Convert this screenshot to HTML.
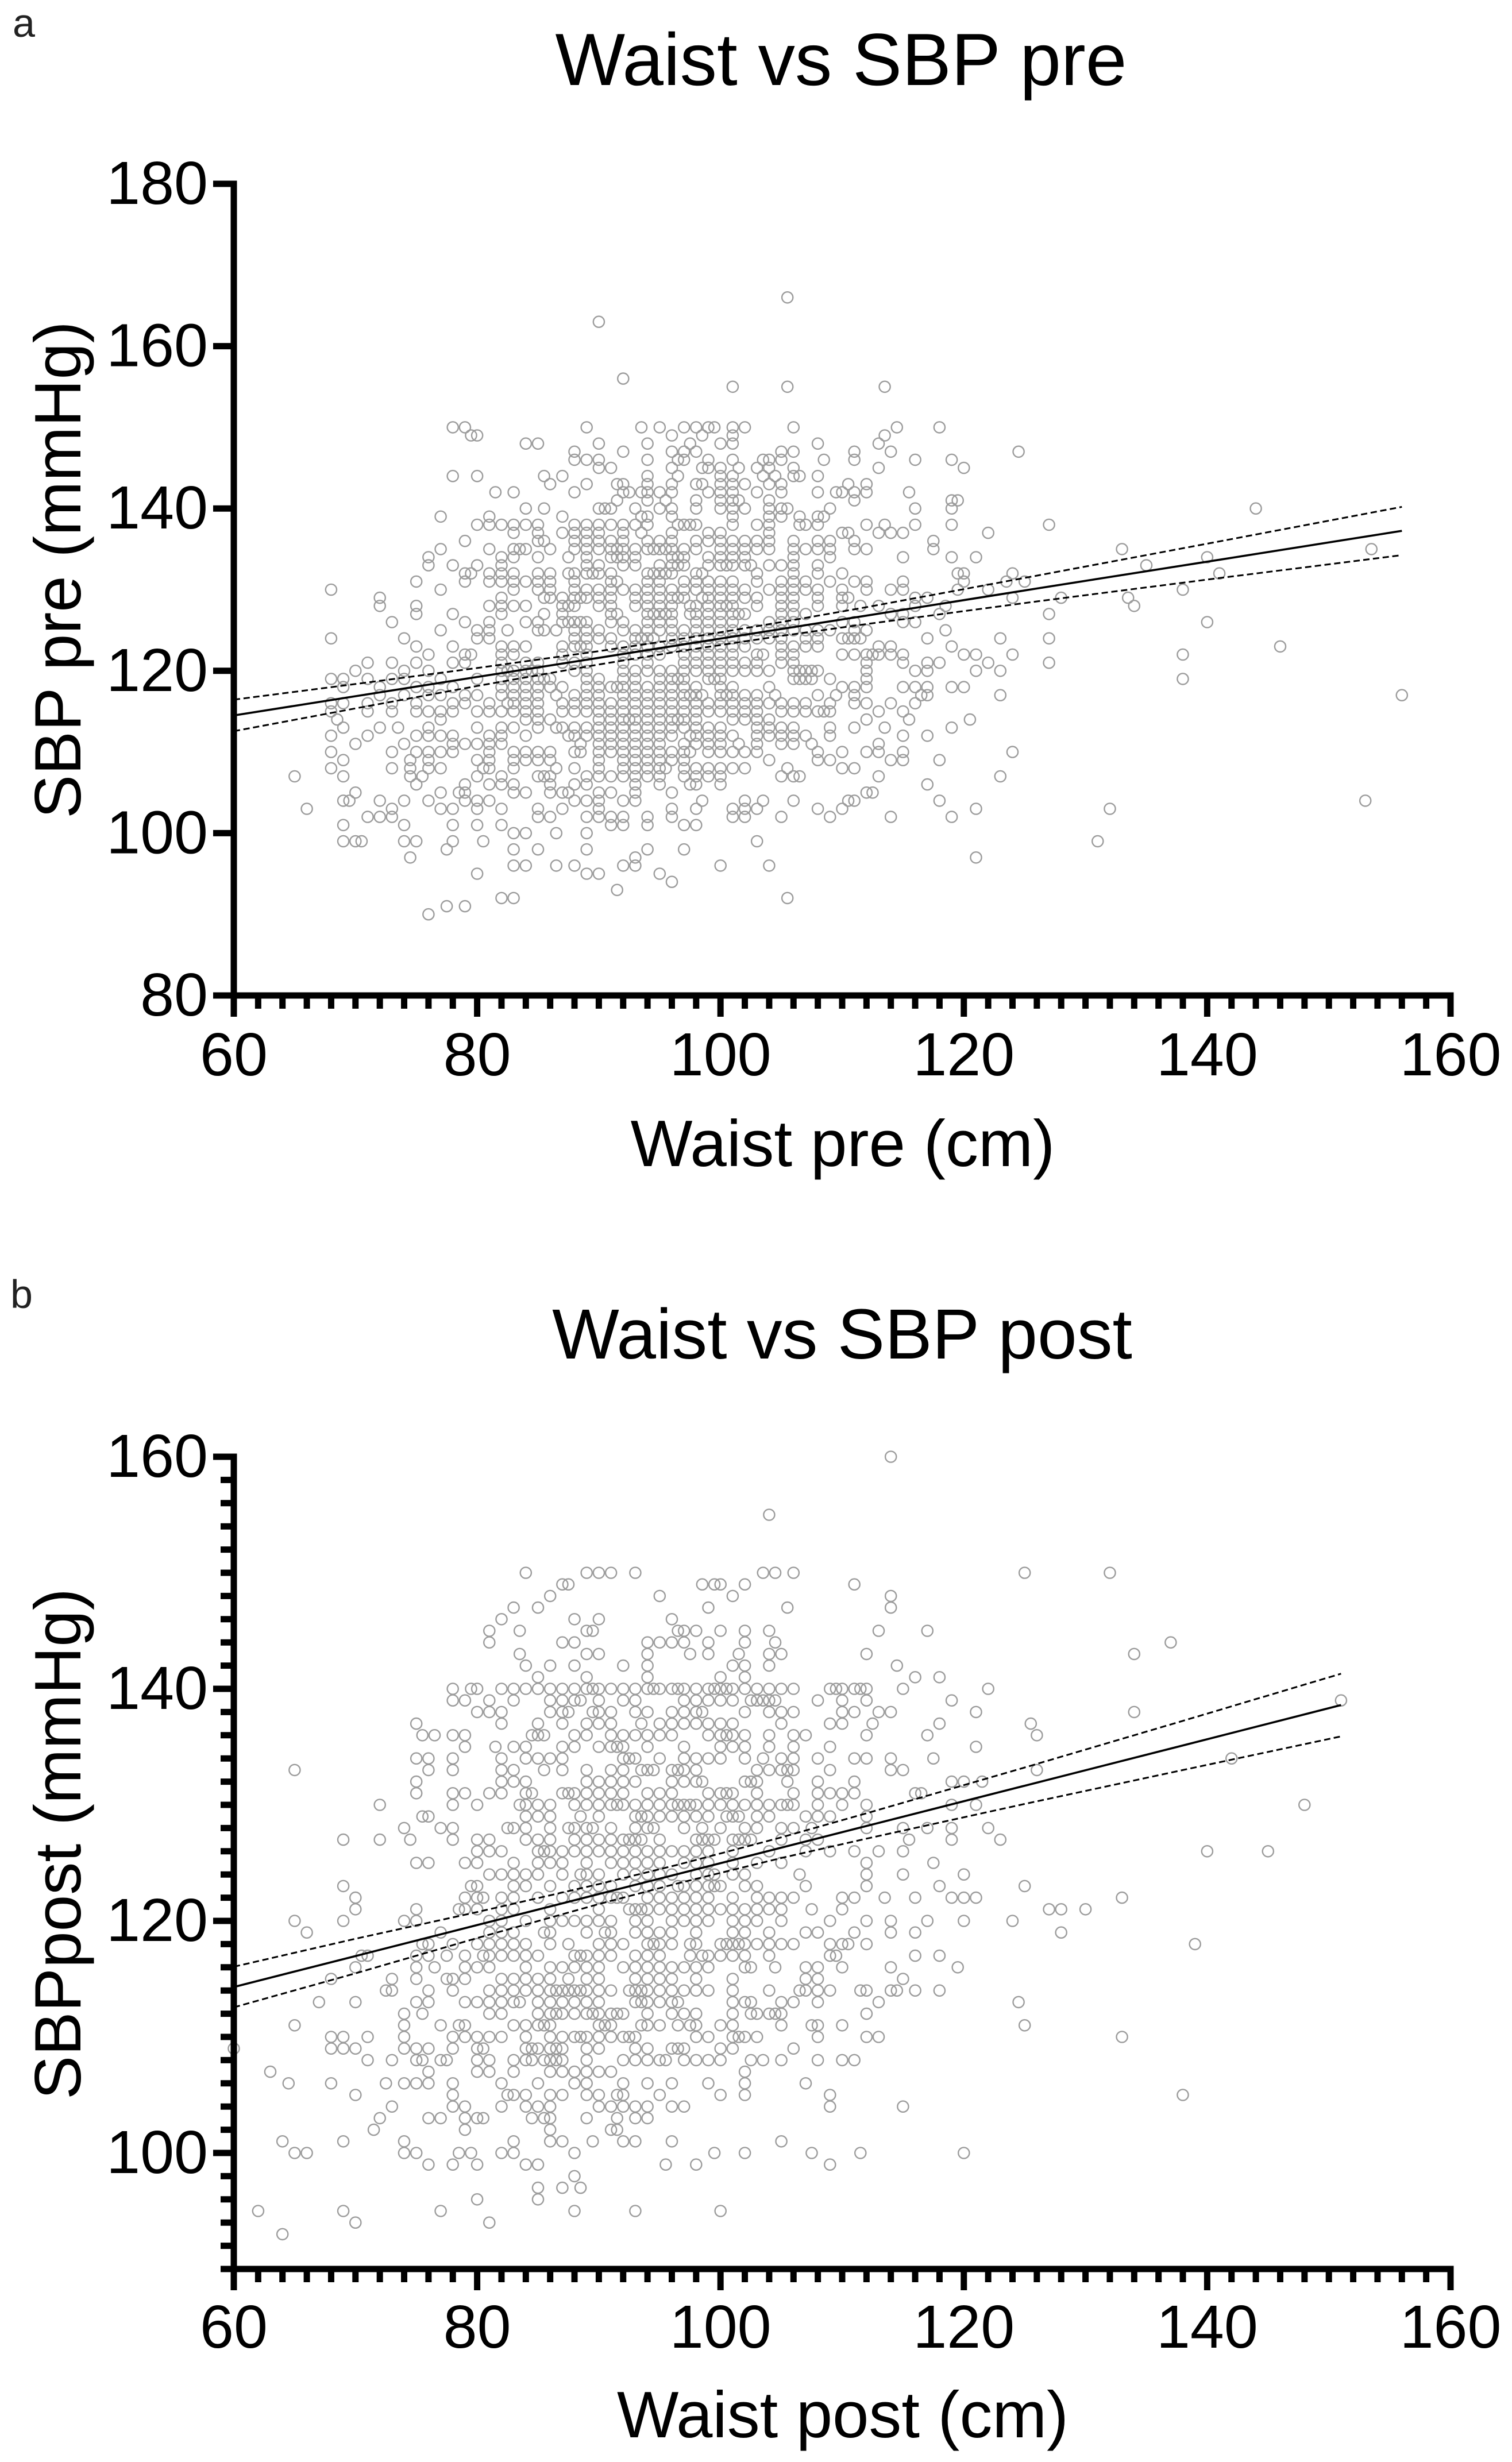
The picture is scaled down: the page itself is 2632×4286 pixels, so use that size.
<!DOCTYPE html>
<html lang="en">
<head>
<meta charset="utf-8">
<title>Waist vs SBP scatter plots</title>
<style>
html,body{margin:0;padding:0;background:#fff;}
svg{display:block;}
text{font-family:"Liberation Sans",Arial,sans-serif;fill:#000;}
</style>
</head>
<body>
<svg id="figure" xmlns="http://www.w3.org/2000/svg" width="2632" height="4286" viewBox="0 0 2632 4286">
  <rect x="0" y="0" width="2632" height="4286" fill="#fff"/>
  <text x="22" y="64" font-size="70" style="fill:#222">a</text>
  <text x="1464" y="148" font-size="128.8" text-anchor="middle">Waist vs SBP pre</text>
  <text x="1467" y="2030" font-size="114.3" text-anchor="middle">Waist pre (cm)</text>
  <text x="140" y="992" font-size="114" text-anchor="middle" transform="rotate(-90 140 992)">SBP pre (mmHg)</text>
  <text x="18" y="2277" font-size="70" style="fill:#222">b</text>
  <text x="1466" y="2365" font-size="123.6" text-anchor="middle">Waist vs SBP post</text>
  <text x="1467" y="4243" font-size="113.8" text-anchor="middle">Waist post (cm)</text>
  <text x="140" y="3210" font-size="114.4" text-anchor="middle" transform="rotate(-90 140 3210)">SBPpost (mmHg)</text>
  <g id="panel-a"></g>
  <g id="panel-b"></g>
</svg>
<script>
/* ---------- shared x axis values ---------- */
const waistTickLabels = [60,80,100,120,140,160];
const waistMinorTicks = [62,64,66,68,70,72,74,76,78,82,84,86,88,90,92,94,96,98,102,104,106,108,110,112,114,116,118,122,124,126,128,130,132,134,136,138,142,144,146,148,150,152,154,156,158];

/* ---------- panel a values ---------- */
const sbpPreTickLabels = [80,100,120,140,160,180];
const sbpPreMinorTicks = [];
const sbpPreLevels = [90,91,92,93,94,95,96,97,98,99,100,101,102,103,104,105,106,107,108,109,110,111,112,113,114,115,116,117,118,119,120,121,122,123,124,125,126,127,128,129,130,131,132,133,134,135,136,137,138,139,140,141,142,143,144,145,146,147,148,149,150,155,156,163,166];
const waistPreByLevel = [
[76],
[77.5,79],
[82,83,105.5],
[91.5],
[96],
[80,89,90,95],
[83,84,86.5,88,92,93,100,104],
[74.5,93,121],
[77.5,83,85,89,94,97],
[69,70,70.5,74,75,78,80.5,103,131],
[83,84,86.5,89],
[69,74,78,80,82,91,92,94,97,98],
[71,72,73,85,86,89,90,91,92,94,96,101,102,105,109,114,119],
[66,73,77,78,80,82,85,87,90,96,98,101,102,103,108,110,121,132],
[69,69.5,72,74,76,79,80,81,88,89,90,92,93,98.5,102,103.5,106,110.5,111,118,153],
[70,77,78.5,79,83,84,86,87,87.5,90,91,93,96,112,112.5],
[75,79,81,82,83,86,88,89,93,95,97.5,98,100,117],
[65,69,74.5,75.5,80,82,85,85.5,86,89,90,91,92,93,94,95,97,98,99,100,105,106,106.5,113,123],
[68,73,74.5,76,77,80.5,81,83,86.5,88,90,92,93,94,95,95.5,97,98,99,100,101,102,105.5,110,111],
[69,74.5,76,80,81,83,84,85,86,90,92,93,94,95,96,97,104,108,109,114,115,118],
[68,73,75,76,77,78,81,83,84,85,86,88,88.5,90,91,92,93,94,95,96,97,97.5,99,100,101,102,103,108,110,112,113,115,124],
[70,74,78,79,80,81,82,88.5,90,91,92,93,94,95,97,98,99,100,101.5,103,105,106,107.5,113],
[68,71,75,76,77,78,81,82,84,87.5,88,89,90,91,92,93,94,95,96,97.5,98,99,100,101,103,104,105,106,107,109,115,117],
[69,72,73.5,76,80,82,83,85,86.5,87,88,89,90,91,92,93,94,95,96,97,98,99,100,103,104,105,106,109,111,113.5,119],
[68.5,77,84,85,86,90,91,92,92.5,93,94,95,96,96.5,97,98,101,102,103,104,112,115.5,120.5],
[68,71,73,75,76,77,78,80,81,82,83,84,85,87,88,89,90,91,92,93,94,95,96,97,98,99,100,101,102,103,105,106,107,108,108.5,109,113,115],
[68,69,71,73,75,78,79,81,82.5,83,84,85,87,88,89,90,91,92,93,94,95,96,97,98,99,100,101,102,103,104,105,106,107,109,111,112,114,116],
[72,74,76,77,79,80,82,83,84,85,86.5,88,89,90,92,93,94,95,96,97,97.5,98,98.5,100,100.5,101,102,103,104.5,108,109.5,111,116.5,117,123,156],
[69,72,75,76,78,82,83,84,85,86,87,89,90,91,91.5,92,93,94,95,96,97,98,100,101,104,110,111,112,115,116,117,119,120],
[68,69,71,73,74,77,80,82,83,84,85,85.5,86,89,90,92,93,95,96,96.5,97,99,99.5,100,106,106.5,107,107.5,109,112,138],
[70,74,76,82,82.5,83,84,84.5,85,88,89,92,93,94,95,96,97,98,99,100,101,102,103,104,106,106.5,107,107.5,108,112,116,117,121,123],
[71,73,75,78,79,82,84,85,87,88,89,92,94,97,98,99,100,101,102,103,105,106,112,115,117,118,122,127],
[76,79,79.5,82,83,87,89,92,93,94,95,97,98,99,100,101,103,103.5,105,106,110,111,112,112.5,113,114,115,120,121,124,138],
[75,78,82,83,84,87,88,88.5,89,91,92,93,94,95,96,97,98,99,100,101,102,105,106,107,108,113,114,119,146],
[68,74,80,81,88,89,90,91,93,93.5,94,94.5,96,97,98,99,100,101,102,103,104,105,107,108,110,111,110.5,111.5,117,123,127],
[77,80,81,82.5,85,85.5,86.5,88,89,90,92,93,94,95,96,97,98,99,100,101,102,103,104,105,106,107,108,109,111,112,118.5],
[73,79,81,84,85,87,87.5,88,88.5,89,91,92,94,95,96,98,99,100,101,104,105,106,110,111,115,116,140],
[75,78,82,85.5,87,91,91.5,94,94.5,95,95.5,96,97.5,98,99,100,101,101.5,102,105,106,107,114,115,118,127],
[72,75,81,82,83,84,87,87.5,88,90,91,93,94,95,96,97.5,98,99,100,100.5,101,103,105,106,108,110,111.5,113,116,118.5,134],
[72,82,85.5,86,87,88,88.5,89,90,91,93,94,95,96,96.5,97,98.5,99,100,101,102,103,105,106,108,110,110.5,116,117,124,128,133.5],
[68,77,83,85,86,88,89,90,91,92,93,94,95,96,97,98,99,100,101,102,104,105,106,107,108,110,112,114,115,119.5,122,138],
[75,79,81,82,83,84,85,86,88,91,91.5,94,95,97,98,99,100,101,103,105,106,107,109,111,112,115,120,123.5,125],
[79,79.5,81,82,83,85,86,87.5,88,89,89.5,90,91,94,94.5,95,95.5,96,98,98.5,103,106,108,110,119.5,120,124,141],
[76,78,80,82,89,90,92,93,95,96,96.5,97,99,100,100.5,101,102,102.5,104,105,106,108,135],
[76,82,83,85,87.5,89,91,91.5,92,93,96,96.5,97,99,100,101,102,106,109,115,119,121,140],
[77,81,83,83.5,84,86,88,89,90,91,91.5,92,93,94,94.5,95,95.5,96,97,98,100,101,102,103,104,106,107,108,109,111,112,117.5,133,153.5],
[79,85,85.5,88,89,90,91,92,94,95,96,98,99,100,101,102,103,104,106,108,109,111,117.5],
[83,85,87,88,89,90,92,93.5,96,99,100,104,110,110.5,113,114,115,122],
[80,81,82,83,84,85,88,89,90,91,92,93,94,96.5,97,97.5,98,101,103,104,106.5,107,108,112,113.5,116,119,127],
[77,81,87,93.5,94,96,101,104,105,106.5,108,108.5],
[84,85.5,90,90.5,91,93,95,96,98,100,101,102,104,105,105.5,109,116,119,144],
[91.5,94,95.5,98,100,101,101.5,104,111,119,119.5],
[81.5,83,88,92,92.5,93.5,94,95,96,99,100,101,103,105,108,109.5,110,111,112,115.5],
[86,89,91.5,92,94,96,98,98.5,100,101,102,104,105,110.5,112],
[78,80,85.5,87,94,96.5,100,101,103.5,104.5,106,106.5,108],
[90,91,96,98.5,99,100,101.5,103,104,106,113,120],
[88,89,90,94,96.5,97,99,101,103.5,104,105,108.5,111,116,119],
[88,92,96,97,98,105,106,111,114,124.5],
[84,85,90,94,97.5,100,101,108,113],
[79.5,80,96,98.5,101,113.5],
[78,79,89,93.5,95,97,98,99,99.5,101,102,106,114.5,118],
[101,105.5,113.5],
[92],
[90],
[105.5]
];
const fitPreWaist = [60,70,80,90,97,105,112,126,140,156];
const fitPreSbp = [114.5,116.87,119.24,121.6,123.26,125.15,126.8,130.14,133.45,137.25];
const fitPreUpper = [116.45,118.37,120.35,122.42,124.0,126.0,127.84,131.73,135.66,140.2];
const fitPreLower = [112.56,115.37,118.13,120.78,122.5,124.3,125.76,128.55,131.24,134.25];

/* ---------- panel b values ---------- */
const sbpPostTickLabels = [100,120,140,160];
const sbpPostMinorTicks = [90,92,94,96,98,102,104,106,108,110,112,114,116,118,122,124,126,128,130,132,134,136,138,142,144,146,148,150,152,154,156,158];
const sbpPostLevels = [93,94,95,96,97,98,99,100,101,102,103,104,105,106,107,108,109,110,111,112,113,114,115,116,117,118,119,120,121,122,123,124,125,126,127,128,129,130,131,132,133,134,135,136,137,138,139,140,141,142,143,144,145,146,147,148,149,150,155,160];
const waistPostByLevel = [
[64],
[70,81],
[62,69,77,88,93,100],
[80,85],
[85,87,88.5],
[88],
[76,78,80,84,85,95.5,98,109],
[65,66,74,75,78.5,79.5,82,83,88,99.5,102,107.5,111.5,120],
[64,69,74,83,86,87,89.5,92,93,96,105],
[71.5,79,86,91,91.5],
[72,76,77,79,80,80.5,84.5,85.5,86,89,91.5,93,94],
[73,78,79,82,84,85,86,90,91,92,93,94,96,97,109,115],
[70,78,82.5,83,84,86,87,89,90,91.5,92,95,100,102,109,138],
[64.5,68,72.5,74,75,76,78,82,85,88,89,92,94,96,99,102,107],
[63,76,80,81,83,86,87,88,89,90,91,102],
[71,73,75,75.5,77,77.5,80,81,83,84,84.5,85.5,86,86.5,87,89,92,93,94,95,95.5,97,98,99,100,102.5,103.5,105,108,110,111],
[60,68,69,70,74,75,76,78,80,80.5,84,84.5,85,86,86.5,87,89,90,93,94,96,96.5,97,100,101,106],
[68,69,71,74,78,79,80,81,82,84,86,87,88,88.5,89,90,91,92,92.5,93,98,99,101,101.5,102,103,108,112,113,133],
[65,74,77,78.5,79,83,84,85,85.5,86,90,90.5,91,93.5,94,95,96.5,97.5,98,100,101,105,107.5,108,110,125],
[74,75.5,81,82,85,86,86.5,87,88,89,89.5,90,91,91.5,92,94,96,97,98,101,102.5,103,104,104.5,105,112],
[67,70,75,76,79,80,81,82,83,83.5,85,86,87,88,89,90,93,93.5,94,95,96,96.5,101,102,102.5,105,106,108,113,124.5],
[72.5,73,76,78,81,82,83,84,85,86,86.5,87,87.5,88,88.5,89,90,91,92.5,93,93.5,94,95,96,97,98,99,101,104,106.5,107,108,109,111.5,112,114,114.5,116,118],
[68,73,75,77.5,78,79,82,83,84,85,86,87.5,89,90,93,94,95,96,98,101,107,108,115],
[70,75,76.5,79,80,81,84,86,87,88,89,90,92,93,94,95,96,97,98,99,102,102.5,104.5,107,108,110,114,119.5],
[70.5,71,75,76,77.5,79,80.5,81,82,83,84,85,88,88.5,89,90,91,93,94,95,97.5,98.5,99,100,101,102,104,109,109.5,116,118],
[75.5,76,78,80,81,82,83,84,86,87.5,90,91,92,94,94.5,95,96,97.5,98,100,100.5,101,101.5,102,103,104,105,106,109,110,110.5,112,139],
[66,77,81,82,83,85.5,86,89,90.5,91,93,94,95,96,98,101,102,104,107,108,111,114,116,128],
[65,69,74,75,81,82,84,86,87,88,89,90,91,93,94,96,97,98,99,101,102,103,105,109,112,114,117,120,124],
[70,75,78.5,79,80,82,83,86,90,92.5,93,93.5,94,95,96,97,98,99,100,101,102,103,104,105,107.5,110,127,128,130],
[70,79,80,80.5,82,83,85,87,88,89,90,91,91.5,92,94,95,96,97,98,99,101,103,104,105,106,110,111,113.5,116,119,120,121,133],
[69,79.5,80,83,84,86,88,89,90,91,93,94,95,96.5,97,98,99,99.5,100,102,103,107,112,118,125],
[81,82,83,84,85,87,88.5,89,90,92,93,94,95,96,98,99,99.5,101,102,106.5,112,115,120],
[75,76,79,80,83,85,86,87,89,91,92,93,94,95,97,98,99,101,103,105,112,117.5],
[80,81,82,85,85.5,86,87,88,89,90,91,92,93,94,95,96,97,98,99,101,104,107,109,111,113,115,140,145],
[69,72,74.5,78,80,81,84,85,86,88,89,90,91,92,92.5,93,93.5,95,98,98.5,99,99.5,101,101.5,102,102.5,105,107,108,115.5,119,123],
[74,77,78,82.5,83,84,86,87.5,88,89,89.5,91,93,94,94.5,97,98.5,100,102,103,105,106,107.5,112,115,117,119,122],
[75.5,76,84,85,86,88.5,90,93,93.5,94,95,96,97,98,99,100.5,101,101.5,103,104,107,108,109,112],
[72,78,80,83.5,84,85,86,88,89,90,91,91.5,92,93,94,95,96,96.5,97,97.5,98,99,100,101,102,103,104,105,105.5,106,108,110,112,119,121,148],
[75,78,79,81,82,84,84.5,87,87.5,88,89,90,91,92,94,95,96,99,100,100.5,101,103,106,108,109,110,111,116,116.5],
[75,82,83,84,89,90,91,92,93,96,97,98,98.5,102,102.5,103,105.5,108,111,119,120,121.5],
[65,76,78,82,83,85.5,87,89,91,92,93.5,94,94.5,96,96.5,97,98,103,104,105,105.5,106,109,114,115,126],
[75,76,78,82,84,85,86,87,92,92.5,93,95,97,98,99,100,102,103.5,105,106,108,111,112,114,117.5,142],
[79,81.5,83,84,87,88,90,91,91.5,92,94,97,100,101,102,104,106,109,121],
[75.5,76.5,78,79,84.5,85,85.5,88,89,91,92,93,94,95,96,99,100,100.5,101,102,104,106,107,112,117,126],
[75,82,85,87,89,90,91,93.5,95,96,97,98,99,100,101,105,109,110,112.5,118,125.5],
[80,81,82,86,87,87.5,89.5,90,91,93,94,96,97,98,98.5,102,104,105,106,110,111,113,114,121,134],
[78,79,81,83,86,87,88,88.5,90,92,93,97,98,99,100,101,102.5,103,103.5,104,104.5,108,110,112,119,151],
[78,79.5,80,82,83,84,85,86,87,88,89,89.5,90,91,92,93,94,94.5,95,96,96.5,97,98,99,99.5,100,100.5,101,102,103,104,105,106,109,109.5,110,111,111.5,112,115,122],
[85,89,94,100,102,116,118],
[84,86,88,92,94,101,102,104,114.5],
[83.5,89,90,94,97.5,99,101.5,104,105,112,134],
[81,87,88,94,95,96,97,99,102,104.5,137],
[81,83.5,89,89.5,96.5,97,98,100,102,104,113,117],
[82,88,90,96],
[83,85,99,105.5,114],
[86,95,101,114],
[87,87.5,98.5,99.5,100,102,111],
[84,89,90,91,93,103.5,104.5,106,125,132],
[104],
[114]
];
const fitPostWaist = [60,70,80,90,96.5,105,112,125,138,151];
const fitPostSbp = [114.3,116.97,119.64,122.31,124.04,126.31,128.18,131.65,135.12,138.6];
const fitPostUpper = [116.05,118.46,120.76,123.17,124.84,127.2,129.27,133.22,137.24,141.3];
const fitPostLower = [112.55,115.48,118.52,121.45,123.24,125.42,127.09,130.08,133.0,135.9];

/* ---------- drawing ---------- */
const SVG_NS = 'http://www.w3.org/2000/svg';

function makeLinearScale(domainA, rangeA, domainB, rangeB) {
  return function (v) { return rangeA + (v - domainA) * (rangeB - rangeA) / (domainB - domainA); };
}

function addRule(parent, x1, y1, x2, y2, label) {
  const el = document.createElementNS(SVG_NS, 'line');
  
  
  el.setAttribute('x1', x1);
  el.setAttribute('y1', y1);
  el.setAttribute('x2', x2);
  el.setAttribute('y2', y2);
  el.setAttribute('stroke', '#000');
  el.setAttribute('stroke-width', 11);
  parent.appendChild(el);
}

function addTickText(parent, x, y, anchor, value, label) {
  const el = document.createElementNS(SVG_NS, 'text');
  
  
  el.setAttribute('x', x);
  el.setAttribute('y', y);
  el.setAttribute('text-anchor', anchor);
  el.setAttribute('font-size', 106);
  el.textContent = String(value);
  parent.appendChild(el);
}

function addFitLine(parent, xs, ys, sx, sy, dashed, label) {
  const el = document.createElementNS(SVG_NS, 'polyline');
  
  
  el.setAttribute('points', xs.map(function (x, i) { return sx(x).toFixed(1) + ',' + sy(ys[i]).toFixed(1); }).join(' '));
  el.setAttribute('fill', 'none');
  el.setAttribute('stroke', '#000');
  el.setAttribute('stroke-width', dashed ? 3 : 3.6);
  if (dashed) { el.setAttribute('stroke-dasharray', '11 6'); }
  parent.appendChild(el);
}

function drawPanel(cfg) {
  const root = document.getElementById(cfg.id);
  const sx = makeLinearScale(60, 407, 160, 2525);
  const sy = makeLinearScale(cfg.yDomainLow, cfg.yRangeLow, cfg.yDomainHigh, cfg.yRangeHigh);
  const baseY = cfg.yRangeLow;
  const topY = cfg.yRangeHigh;

  const points = document.createElementNS(SVG_NS, 'g');
  
  
  points.setAttribute('fill', 'none');
  points.setAttribute('stroke', '#9c9c9c');
  points.setAttribute('stroke-width', '2.4');
  root.appendChild(points);
  cfg.levels.forEach(function (level, r) {
    cfg.rows[r].forEach(function (waist) {
      const c = document.createElementNS(SVG_NS, 'circle');
      
      
      c.setAttribute('cx', sx(waist).toFixed(1));
      c.setAttribute('cy', sy(level).toFixed(1));
      c.setAttribute('r', '9.6');
      points.appendChild(c);
    });
  });

  addFitLine(root, cfg.fitX, cfg.fitY, sx, sy, false, 'regression-line');
  addFitLine(root, cfg.fitX, cfg.fitUpper, sx, sy, true, 'confidence-band-upper');
  addFitLine(root, cfg.fitX, cfg.fitLower, sx, sy, true, 'confidence-band-lower');

  /* axis spines */
  addRule(root, sx(60), topY - 5.5, sx(60), baseY + 37, 'y-axis-line');
  addRule(root, cfg.spineLeft, baseY, sx(160) + 5.5, baseY, 'x-axis-line');

  /* x ticks */
  waistTickLabels.forEach(function (v) {
    addRule(root, sx(v), baseY, sx(v), baseY + 37, 'x-axis-major-tick');
    addTickText(root, sx(v), cfg.xLabelBaseline, 'middle', v, 'x-axis-tick-label');
  });
  waistMinorTicks.forEach(function (v) {
    addRule(root, sx(v), baseY, sx(v), baseY + 23, 'x-axis-minor-tick');
  });

  /* y ticks */
  cfg.yLabels.forEach(function (v) {
    addRule(root, 371, sy(v), sx(60), sy(v), 'y-axis-major-tick');
    addTickText(root, 362, sy(v) + 35, 'end', v, 'y-axis-tick-label');
  });
  cfg.yMinor.forEach(function (v) {
    addRule(root, 384, sy(v), sx(60), sy(v), 'y-axis-minor-tick');
  });
}

drawPanel({
  id: 'panel-a',
  yDomainLow: 80, yRangeLow: 1733, yDomainHigh: 180, yRangeHigh: 320,
  levels: sbpPreLevels, rows: waistPreByLevel,
  fitX: fitPreWaist, fitY: fitPreSbp, fitUpper: fitPreUpper, fitLower: fitPreLower,
  yLabels: sbpPreTickLabels, yMinor: sbpPreMinorTicks,
  spineLeft: 371, xLabelBaseline: 1872
});

drawPanel({
  id: 'panel-b',
  yDomainLow: 90, yRangeLow: 3950, yDomainHigh: 160, yRangeHigh: 2536,
  levels: sbpPostLevels, rows: waistPostByLevel,
  fitX: fitPostWaist, fitY: fitPostSbp, fitUpper: fitPostUpper, fitLower: fitPostLower,
  yLabels: sbpPostTickLabels, yMinor: sbpPostMinorTicks,
  spineLeft: 384, xLabelBaseline: 4087
});
</script>
</body>
</html>
